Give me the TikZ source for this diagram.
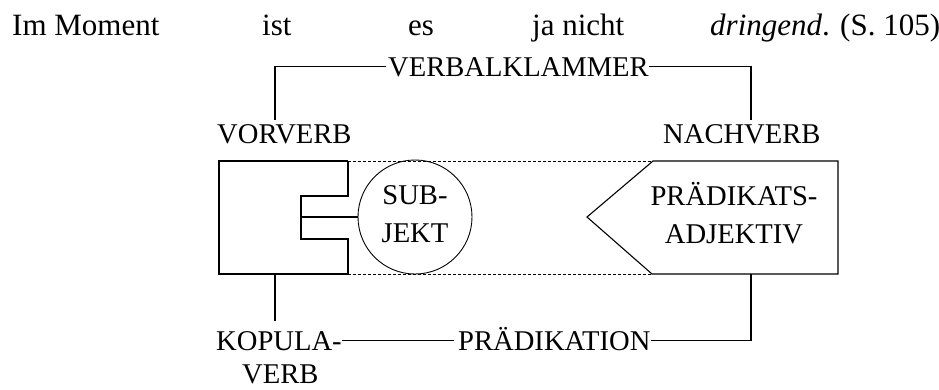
\documentclass[tikz,border=0pt]{standalone}
\usepackage{fontspec}
\setmainfont{Liberation Serif}
\begin{document}
\begin{tikzpicture}[x=1pt,y=-1pt,
  lbl/.style={inner sep=0pt, font=\fontsize{28.6}{38}\selectfont},
  topw/.style={inner sep=0pt, anchor=base west, font=\fontsize{31}{38}\selectfont},
  ln/.style={line width=1.1pt, line join=miter},
  dl/.style={line width=0.9pt, dash pattern=on 3pt off 2pt}]
\useasboundingbox (0,0) rectangle (939,389);
% top sentence
\node[topw] (w1) at (12,35) {Im Moment};
\node[topw] (w2) at (262,35) {ist};
\node[topw] (w3) at (408,35) {es};
\node[topw] (w4) at (532,35) {ja nicht};
\node[topw] (w5) at (710,35) {\textit{dringend}. (S. 105)};
% Verbalklammer
\node[lbl, anchor=base west] (vk) at (388,76) {VERBALKLAMMER};
\node[lbl, anchor=base west] (vv) at (217,143) {VORVERB};
\node[lbl, anchor=base west] (nv) at (663,143) {NACHVERB};
\coordinate (vvtop) at (275,120);
\coordinate (nvtop) at (751,120);
\draw[ln, shorten <=2pt] (vk.west) -| (vvtop);
\draw[ln] (vk.east) -| (nvtop);
% main box: left part
\draw[ln] (348,161) -- (219,161) -- (219,274) -- (348,274);
\draw[ln] (348,161) -- (348,196) -- (301,196) -- (301,239) -- (348,239) -- (348,274);
% dashed middle
\draw[dl] (348,161) -- (653,161);
\draw[dl] (348,274) -- (652,274);
% subject circle
\node[circle, draw, line width=0.9pt, minimum size=114pt, inner sep=0pt] (subj) at (415,217) {};
\node[lbl, align=center] (st) at (415,214.5) {SUB-\\JEKT};
\coordinate (brk) at (301,217);
\draw[ln] (brk) -- (subj.west);
% predicate adjective pentagon
\draw[ln] (653,161) -- (587,217) -- (652,274) -- (838,274) -- (838,161) -- cycle;
\node[lbl, align=center] (pa) at (734,213) {PRÄDIKATS-\\ADJEKTIV};
% bottom
\node[lbl, anchor=base west] (kop) at (216,350) {KOPULA-};
\node[lbl, anchor=base west] (verb) at (242,383) {VERB};
\node[lbl, anchor=base west] (pr) at (458,350) {PRÄDIKATION};
\coordinate (kbox) at (275,274);
\coordinate (ktop) at (275,321);
\coordinate (pbox) at (751,274);
\draw[ln] (kbox) -- (ktop);
\draw[ln, shorten >=4pt] (kop.east) -- (kop.east -| pr.west);
\draw[ln] (kop.east -| pr.east) -| (pbox);
\end{tikzpicture}
\end{document}
